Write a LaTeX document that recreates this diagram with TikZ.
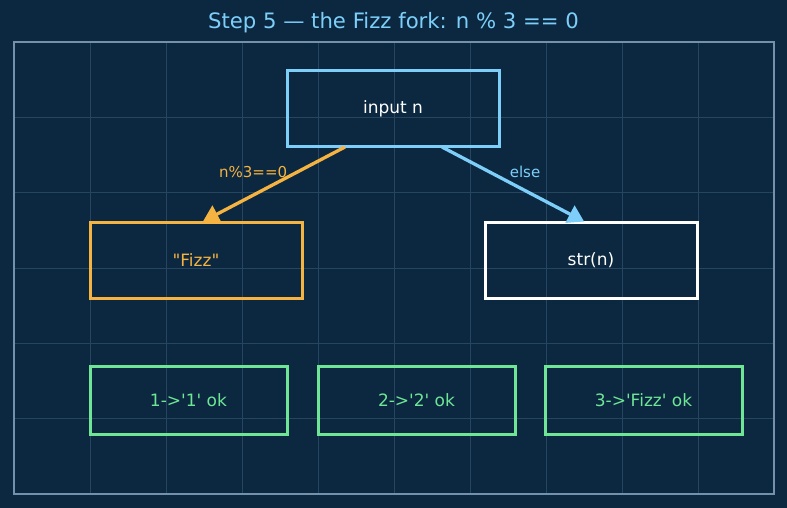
\documentclass[tikz,border=0pt]{standalone}
\usepackage{fontspec}
\setmainfont{DejaVu Sans}[Ligatures=TeXOff]
\usetikzlibrary{positioning, arrows.meta}

\definecolor{fondo}{RGB}{12,40,64}
\definecolor{rejillac}{RGB}{38,70,96}
\definecolor{marcoc}{RGB}{115,145,170}
\definecolor{azul}{RGB}{125,207,250}
\definecolor{naranja}{RGB}{245,179,66}
\definecolor{verde}{RGB}{110,230,150}

\begin{document}
\begin{tikzpicture}[
            x=1pt, y=-1pt,
            % Estilos
            caja/.style={rectangle, draw, line width=3pt, minimum width=212pt, minimum height=76pt, inner sep=0pt, outer sep=0pt, font=\fontsize{17}{20}\selectfont},
            prueba/.style={rectangle, draw=verde, text=verde, line width=3pt, minimum width=197pt, minimum height=68pt, inner sep=0pt, outer sep=0pt, font=\fontsize{17}{20}\selectfont},
            flecha/.style={-{Triangle[width=19pt,length=16pt]}, line width=3.3pt, shorten >=1pt},
            etiqueta/.style={inner sep=0pt, font=\fontsize{15}{18}\selectfont},
            rejilla/.style={draw=rejillac, line width=0.7pt},
            marco/.style={draw=marcoc, line width=1.8pt}
        ]

            % Fondo y rejilla
            \fill[fondo] (0,0) rectangle (787,508);
            \foreach \i in {1,...,9}
                \draw[rejilla] ({14+76*\i},42) -- ({14+76*\i},494);
            \foreach \j in {1,...,5}
                \draw[rejilla] (14,{42+75.33*\j}) -- (774,{42+75.33*\j});
            \draw[marco] (14,42) rectangle (774,494);

            % Titulo
            \node[text=azul, font=\fontsize{21.2}{25}\selectfont] (titulo) at (393.5,22.5) {Step 5 — the Fizz fork: n \% 3 == 0};

            % Nodos
            \node[caja, draw=azul, text=white] (entrada) at (393,109) {input n};
            \node[caja, draw=naranja, text=naranja, below=75pt of entrada, xshift=-197pt] (fizz) {"Fizz"};
            \node[caja, draw=white, text=white, below=75pt of entrada, xshift=198pt] (texto) {str(n)};

            % Pruebas
            \node[prueba, below=68pt of fizz.south west, anchor=north west] (ok1) {1->'1' ok};
            \node[prueba, right=31pt of ok1] (ok2) {2->'2' ok};
            \node[prueba, right=30pt of ok2] (ok3) {3->'Fizz' ok};

            % Ramas
            \draw[flecha, naranja] ([xshift=-48pt]entrada.south) -- node[etiqueta, text=naranja, pos=0.33, left=9pt] {n\%3==0} ([xshift=6pt]fizz.north);
            \draw[flecha, azul] ([xshift=49pt]entrada.south) -- node[etiqueta, text=azul, pos=0.33, right=19pt] {else} ([xshift=-6pt]texto.north);
        \end{tikzpicture}
\end{document}
